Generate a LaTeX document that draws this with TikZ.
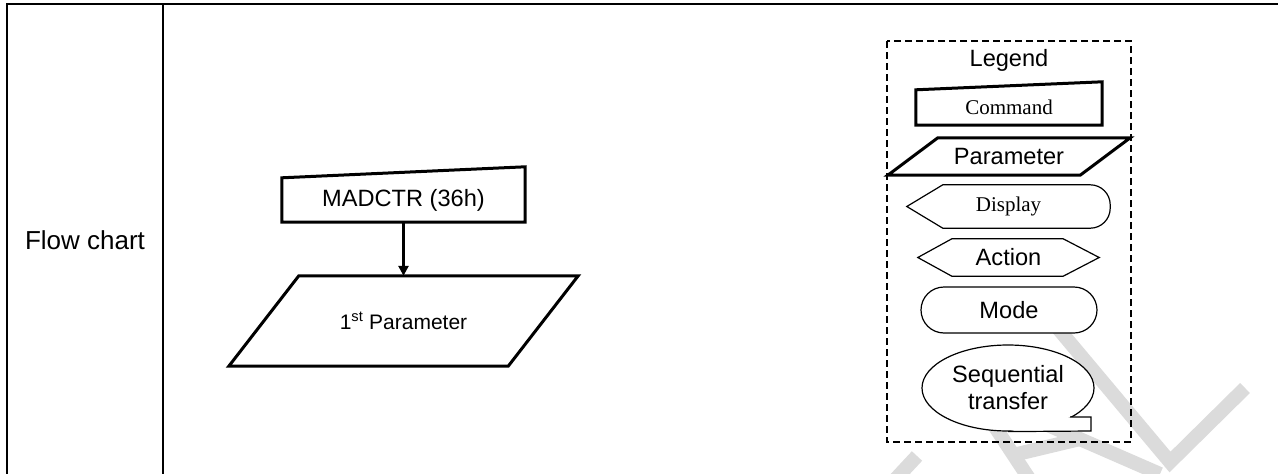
\documentclass[tikz,border=0pt]{standalone}
\usepackage{fontspec}
\setmainfont{Liberation Sans}
\newfontfamily\timesfont{Liberation Serif}
\usetikzlibrary{arrows.meta}
\usetikzlibrary{shapes.geometric}

\begin{document}
\begin{tikzpicture}
[x=1pt,y=-1pt,%
  every node/.style={inner sep=0pt,font=\fontsize{23.6}{27}\selectfont},%
  serif/.style={font=\timesfont\fontsize{21}{25}\selectfont},%
  thickline/.style={line width=3pt,line join=miter},%
  thinline/.style={line width=1.2pt},%
  tableline/.style={line width=2pt},%
  legendbox/.style={line width=1.8pt,dash pattern=on 7pt off 4pt},%
  wmark/.style={draw=black!14,line width=14pt}]
\useasboundingbox (0,0) rectangle (1278,474);
% watermark
\draw[wmark] (1056,326) -- (1170,462) -- (1245,388);
\draw[wmark] (1030,480) -- (972,392) -- (1160,474);
\draw[wmark] (1013,455) -- (1080,439);
\draw[wmark] (890,485) -- (917,456);
% table
\draw[tableline] (1280,4) -- (7,4) -- (7,480);
\draw[tableline] (163,4) -- (163,480);
\node[font=\fontsize{26}{30}\selectfont] (flow) at (85,240) {Flow chart};
% flow chart
\node[minimum width=243pt,minimum height=44pt] (madctr) at (403.5,200) {MADCTR (36h)};
\draw[thickline] (madctr.south west) -- (madctr.south east)
  -- ([yshift=11pt]madctr.north east) -- (madctr.north west) -- cycle;
\node[minimum width=279pt,minimum height=90pt,font=\fontsize{21}{25}\selectfont]
  (par1) at (403.5,321) {1\textsuperscript{st} Parameter};
\draw[thickline] ([xshift=35pt]par1.north west) -- ([xshift=35pt]par1.north east)
  -- ([xshift=-35pt]par1.south east) -- ([xshift=-35pt]par1.south west) -- cycle;
\draw[line width=2.5pt,-{Triangle[length=10pt,width=10pt]}] (madctr.south) -- (par1.north);
% legend
\draw[legendbox] (887,41) rectangle (1131,442);
\node (legend) at (1009,60) {Legend};
\node[serif,minimum width=186pt,minimum height=35pt] (cmd) at (1009,107.5) {Command};
\draw[thickline] (cmd.south west) -- (cmd.south east)
  -- ([yshift=8pt]cmd.north east) -- (cmd.north west) -- cycle;
\node[minimum width=192pt,minimum height=37pt] (par) at (1009,156.5) {Parameter};
\draw[thickline] ([xshift=25pt]par.north west) -- ([xshift=25pt]par.north east)
  -- ([xshift=-25pt]par.south east) -- ([xshift=-25pt]par.south west) -- cycle;
\node[serif,minimum width=203pt,minimum height=43pt] (disp) at (1008.5,206.5) {Display};
\draw[thinline] (disp.west) -- ([xshift=36pt]disp.north west)
  [rounded corners=20pt] -- (disp.north east) -- (disp.south east)
  [sharp corners] -- ([xshift=36pt]disp.south west) -- cycle;
\node[minimum width=181pt,minimum height=37pt] (act) at (1008.5,257.5) {Action};
\draw[thinline] (act.west) -- ([xshift=34pt]act.north west) -- ([xshift=-36pt]act.north east)
  -- (act.east) -- ([xshift=-36pt]act.south east) -- ([xshift=34pt]act.south west) -- cycle;
\node[draw,thinline,fill=white,rounded corners=23pt,minimum width=176pt,minimum height=46pt]
  (mode) at (1009,310) {Mode};
\node[draw,thinline,fill=white,shape=ellipse,minimum width=172pt,minimum height=86pt,align=center]
  (seq) at (1008,388) {Sequential\\transfer};
\fill[white] ([xshift=63pt,yshift=-29pt]seq.center) -- ([xshift=83pt,yshift=-29pt]seq.center)
  -- ([xshift=83pt,yshift=-43pt]seq.center) -- (seq.south) -- cycle;
\draw[thinline] ([xshift=62pt,yshift=-29pt]seq.center) -- ([xshift=83pt,yshift=-29pt]seq.center)
  -- ([xshift=83pt,yshift=-43pt]seq.center) -- (seq.south);
\end{tikzpicture}
\end{document}
